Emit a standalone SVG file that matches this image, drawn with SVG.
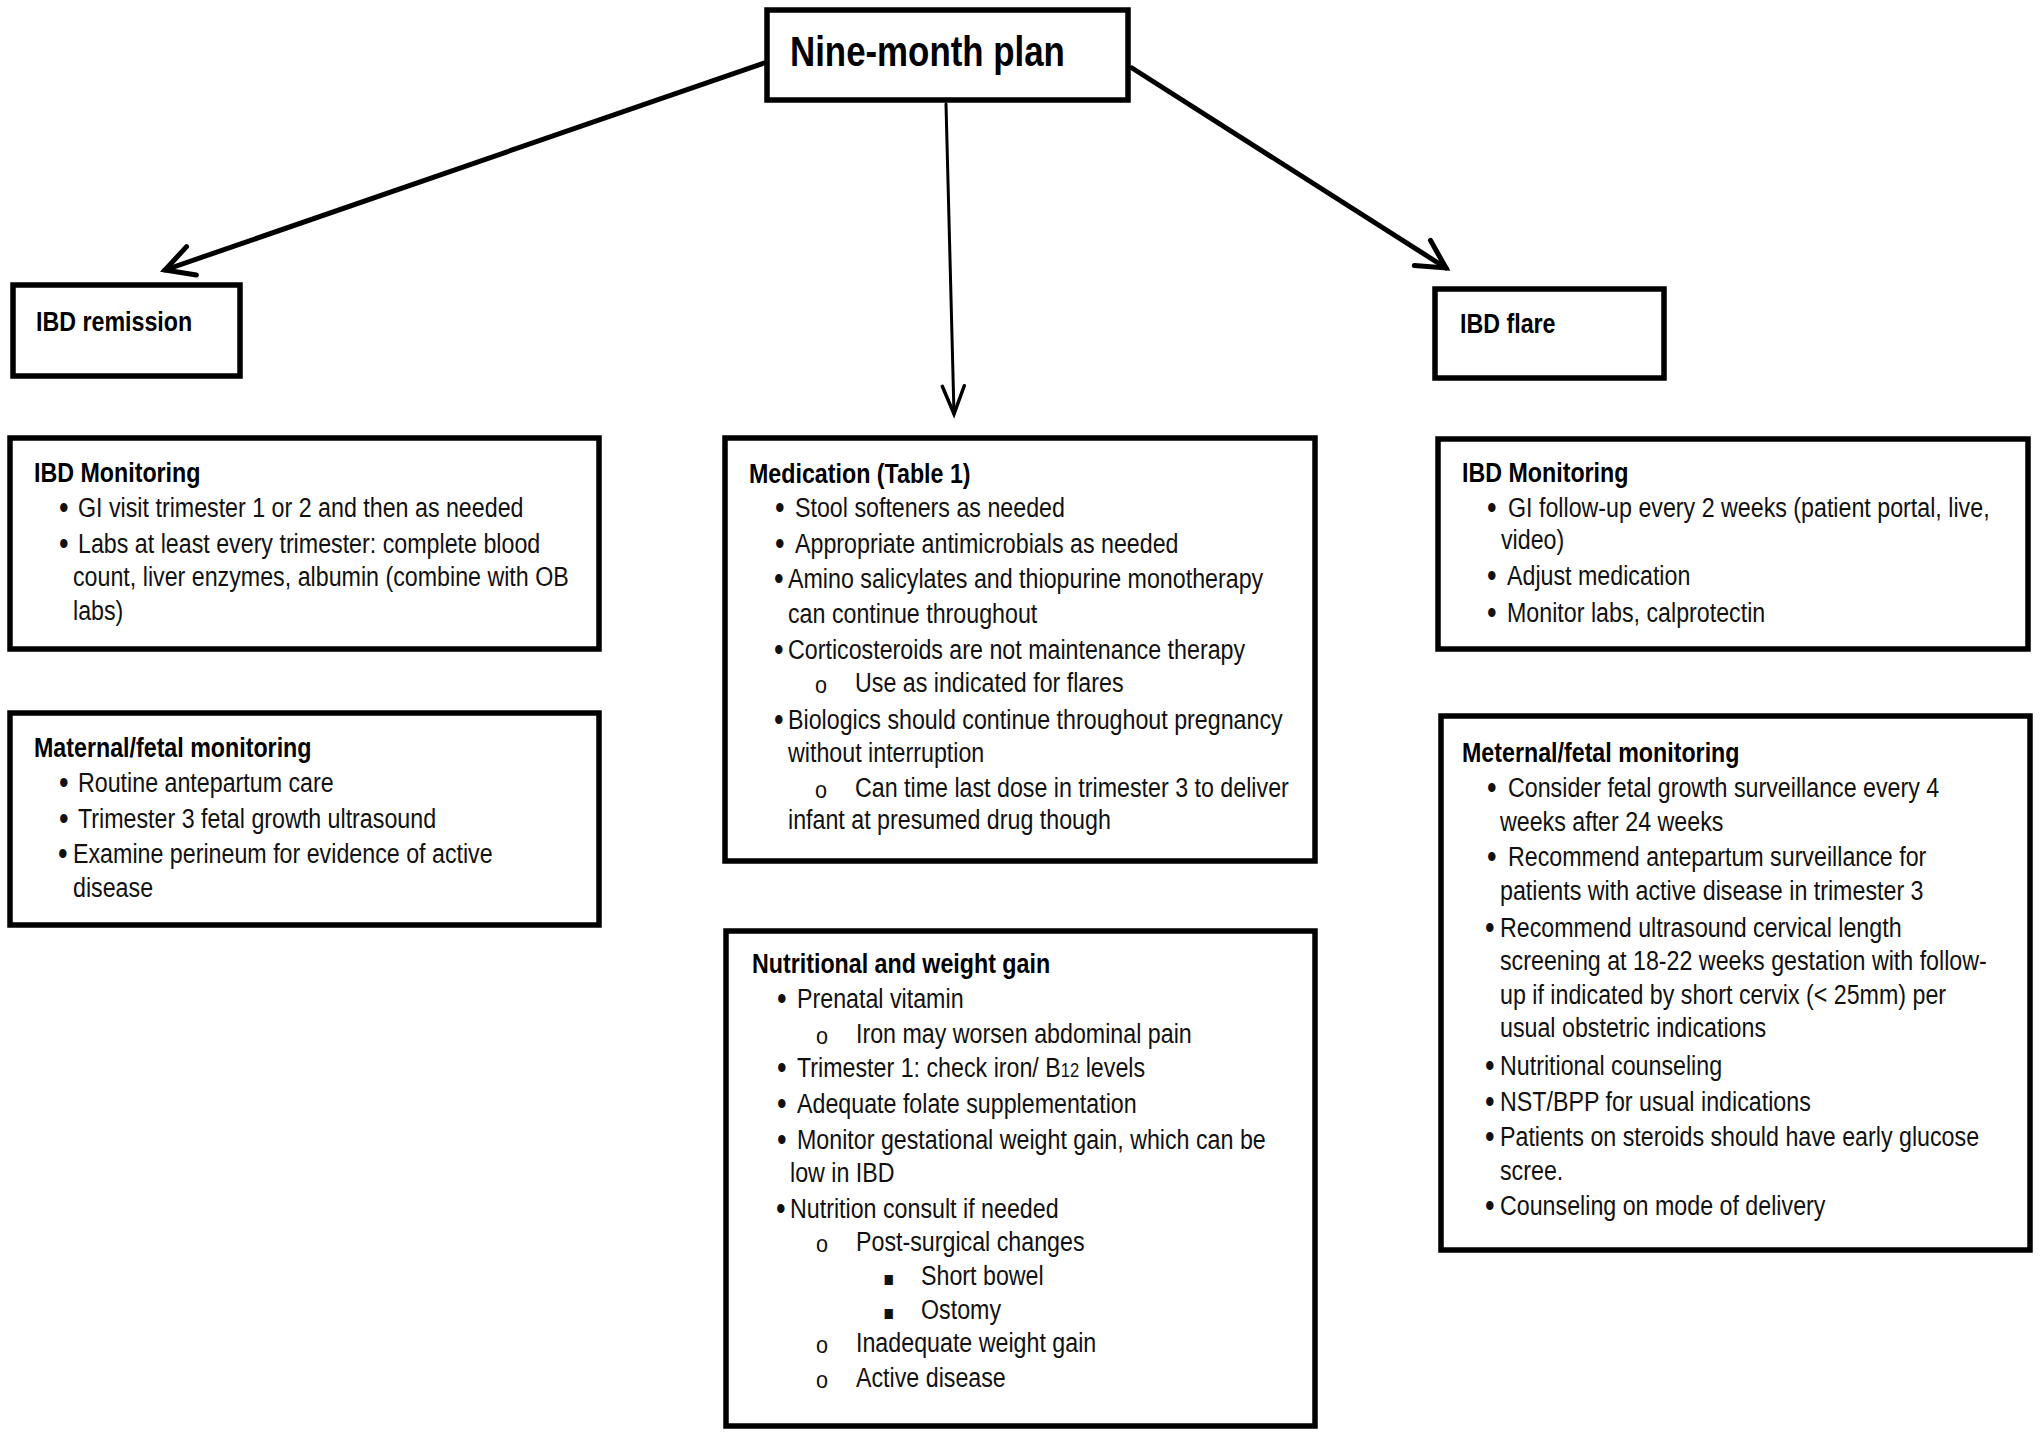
<svg xmlns="http://www.w3.org/2000/svg" width="2040" height="1437" viewBox="0 0 2040 1437">
<style>
.box{fill:#fff;stroke:#000;stroke-width:5.5}
.h{font-family:"Liberation Sans",Arial,sans-serif;font-weight:bold;font-size:28px;fill:#000}
.ti{font-family:"Liberation Sans",Arial,sans-serif;font-weight:bold;font-size:42px;fill:#000}
.t{font-family:"Liberation Sans",Arial,sans-serif;font-size:28px;fill:#111}
.b{font-family:"Liberation Sans",Arial,sans-serif;font-size:33px;fill:#111}
.o{font-family:"Liberation Sans",Arial,sans-serif;font-size:24px;fill:#111}
.sq{font-family:"DejaVu Sans",sans-serif;font-size:20px;fill:#111}
.sub{font-size:20px}
.ln{fill:none;stroke:#000;stroke-linecap:round}
</style>
<defs>
<marker id="ah" markerUnits="userSpaceOnUse" markerWidth="60" markerHeight="60" viewBox="-40 -30 60 60" refX="0" refY="0" orient="auto" overflow="visible">
<path d="M-28,-15 L0,0 L-28,15" fill="none" stroke="#000" stroke-width="5" stroke-linecap="round"/>
</marker>
<marker id="ah2" markerUnits="userSpaceOnUse" markerWidth="60" markerHeight="60" viewBox="-40 -30 60 60" refX="0" refY="0" orient="auto" overflow="visible">
<path d="M-28,-11 L0,0 L-28,11" fill="none" stroke="#000" stroke-width="3.5" stroke-linecap="round"/>
</marker>
</defs>
<rect width="2040" height="1437" fill="#fff"/>

<g id="connectors">
<line class="ln" x1="764" y1="63" x2="165" y2="270" stroke-width="5" marker-end="url(#ah)"/>
<line class="ln" x1="946" y1="104" x2="954" y2="414" stroke-width="3" marker-end="url(#ah2)"/>
<line class="ln" x1="1132" y1="68" x2="1446" y2="268" stroke-width="5" marker-end="url(#ah)"/>
</g>

<g id="title">
<rect class="box" x="767" y="10" width="361" height="90"/>
<text class="ti" transform="translate(790 66) scale(.83 1)">Nine-month plan</text>
</g>

<g id="ibd-remission">
<rect class="box" x="13" y="285" width="227" height="91"/>
<text class="h" transform="translate(36 331) scale(.83 1)">IBD remission</text>
</g>

<g id="ibd-flare">
<rect class="box" x="1435" y="289" width="229" height="89"/>
<text class="h" transform="translate(1460 333) scale(.83 1)">IBD flare</text>
</g>

<g id="remission-ibd-monitoring">
<rect class="box" x="10" y="438" width="589" height="211"/>
<text class="h" transform="translate(34 482) scale(.83 1)">IBD Monitoring</text>
<text class="b" transform="translate(59 519) scale(.83 1)">•</text>
<text class="t" transform="translate(78 517) scale(.83 1)">GI visit trimester 1 or 2 and then as needed</text>
<text class="b" transform="translate(59 555) scale(.83 1)">•</text>
<text class="t" transform="translate(78 553) scale(.83 1)">Labs at least every trimester: complete blood</text>
<text class="t" transform="translate(73 586) scale(.83 1)">count, liver enzymes, albumin (combine with OB</text>
<text class="t" transform="translate(73 620) scale(.83 1)">labs)</text>
</g>

<g id="remission-maternal-fetal">
<rect class="box" x="10" y="713" width="589" height="212"/>
<text class="h" transform="translate(34 757) scale(.83 1)">Maternal/fetal monitoring</text>
<text class="b" transform="translate(59 794) scale(.83 1)">•</text>
<text class="t" transform="translate(78 792) scale(.83 1)">Routine antepartum care</text>
<text class="b" transform="translate(59 830) scale(.83 1)">•</text>
<text class="t" transform="translate(78 828) scale(.83 1)">Trimester 3 fetal growth ultrasound</text>
<text class="b" transform="translate(58 865) scale(.83 1)">•</text>
<text class="t" transform="translate(73 863) scale(.83 1)">Examine perineum for evidence of active</text>
<text class="t" transform="translate(73 897) scale(.83 1)">disease</text>
</g>

<g id="medication">
<rect class="box" x="725" y="438" width="590" height="423"/>
<text class="h" transform="translate(749 483) scale(.83 1)">Medication (Table 1)</text>
<text class="b" transform="translate(775 519) scale(.83 1)">•</text>
<text class="t" transform="translate(795 517) scale(.83 1)">Stool softeners as needed</text>
<text class="b" transform="translate(775 555) scale(.83 1)">•</text>
<text class="t" transform="translate(795 553) scale(.83 1)">Appropriate antimicrobials as needed</text>
<text class="b" transform="translate(774 590) scale(.83 1)">•</text>
<text class="t" transform="translate(788 588) scale(.83 1)">Amino salicylates and thiopurine monotherapy</text>
<text class="t" transform="translate(788 623) scale(.83 1)">can continue throughout</text>
<text class="b" transform="translate(774 661) scale(.83 1)">•</text>
<text class="t" transform="translate(788 659) scale(.83 1)">Corticosteroids are not maintenance therapy</text>
<text class="o" transform="translate(815 693) scale(.9 1)">o</text>
<text class="t" transform="translate(855 692) scale(.83 1)">Use as indicated for flares</text>
<text class="b" transform="translate(774 731) scale(.83 1)">•</text>
<text class="t" transform="translate(788 729) scale(.83 1)">Biologics should continue throughout pregnancy</text>
<text class="t" transform="translate(788 762) scale(.83 1)">without interruption</text>
<text class="o" transform="translate(815 798) scale(.9 1)">o</text>
<text class="t" transform="translate(855 797) scale(.83 1)">Can time last dose in trimester 3 to deliver</text>
<text class="t" transform="translate(788 829) scale(.83 1)">infant at presumed drug though</text>
</g>

<g id="nutrition">
<rect class="box" x="726" y="931" width="589" height="495"/>
<text class="h" transform="translate(752 973) scale(.83 1)">Nutritional and weight gain</text>
<text class="b" transform="translate(777 1010) scale(.83 1)">•</text>
<text class="t" transform="translate(797 1008) scale(.83 1)">Prenatal vitamin</text>
<text class="o" transform="translate(816 1044) scale(.9 1)">o</text>
<text class="t" transform="translate(856 1043) scale(.83 1)">Iron may worsen abdominal pain</text>
<text class="b" transform="translate(777 1079) scale(.83 1)">•</text>
<text class="t" transform="translate(797 1077) scale(.83 1)">Trimester 1: check iron/ B<tspan class="sub">12</tspan> levels</text>
<text class="b" transform="translate(777 1115) scale(.83 1)">•</text>
<text class="t" transform="translate(797 1113) scale(.83 1)">Adequate folate supplementation</text>
<text class="b" transform="translate(777 1151) scale(.83 1)">•</text>
<text class="t" transform="translate(797 1149) scale(.83 1)">Monitor gestational weight gain, which can be</text>
<text class="t" transform="translate(790 1182) scale(.83 1)">low in IBD</text>
<text class="b" transform="translate(776 1220) scale(.83 1)">•</text>
<text class="t" transform="translate(790 1218) scale(.83 1)">Nutrition consult if needed</text>
<text class="o" transform="translate(816 1252) scale(.9 1)">o</text>
<text class="t" transform="translate(856 1251) scale(.83 1)">Post-surgical changes</text>
<text class="sq" transform="translate(883 1285) scale(.83 1)">▪</text>
<text class="t" transform="translate(921 1285) scale(.83 1)">Short bowel</text>
<text class="sq" transform="translate(883 1319) scale(.83 1)">▪</text>
<text class="t" transform="translate(921 1319) scale(.83 1)">Ostomy</text>
<text class="o" transform="translate(816 1353) scale(.9 1)">o</text>
<text class="t" transform="translate(856 1352) scale(.83 1)">Inadequate weight gain</text>
<text class="o" transform="translate(816 1388) scale(.9 1)">o</text>
<text class="t" transform="translate(856 1387) scale(.83 1)">Active disease</text>
</g>

<g id="flare-ibd-monitoring">
<rect class="box" x="1438" y="439" width="590" height="210"/>
<text class="h" transform="translate(1462 482) scale(.83 1)">IBD Monitoring</text>
<text class="b" transform="translate(1487 519) scale(.83 1)">•</text>
<text class="t" transform="translate(1508 517) scale(.83 1)">GI follow-up every 2 weeks (patient portal, live,</text>
<text class="t" transform="translate(1501 549) scale(.83 1)">video)</text>
<text class="b" transform="translate(1487 587) scale(.83 1)">•</text>
<text class="t" transform="translate(1507 585) scale(.83 1)">Adjust medication</text>
<text class="b" transform="translate(1487 624) scale(.83 1)">•</text>
<text class="t" transform="translate(1507 622) scale(.83 1)">Monitor labs, calprotectin</text>
</g>

<g id="flare-maternal-fetal">
<rect class="box" x="1441" y="716" width="589" height="534"/>
<text class="h" transform="translate(1462 762) scale(.83 1)">Meternal/fetal monitoring</text>
<text class="b" transform="translate(1487 799) scale(.83 1)">•</text>
<text class="t" transform="translate(1508 797) scale(.83 1)">Consider fetal growth surveillance every 4</text>
<text class="t" transform="translate(1500 831) scale(.83 1)">weeks after 24 weeks</text>
<text class="b" transform="translate(1487 868) scale(.83 1)">•</text>
<text class="t" transform="translate(1508 866) scale(.83 1)">Recommend antepartum surveillance for</text>
<text class="t" transform="translate(1500 900) scale(.83 1)">patients with active disease in trimester 3</text>
<text class="b" transform="translate(1485 939) scale(.83 1)">•</text>
<text class="t" transform="translate(1500 937) scale(.83 1)">Recommend ultrasound cervical length</text>
<text class="t" transform="translate(1500 970) scale(.83 1)">screening at 18-22 weeks gestation with follow-</text>
<text class="t" transform="translate(1500 1004) scale(.83 1)">up if indicated by short cervix (&lt; 25mm) per</text>
<text class="t" transform="translate(1500 1037) scale(.83 1)">usual obstetric indications</text>
<text class="b" transform="translate(1485 1077) scale(.83 1)">•</text>
<text class="t" transform="translate(1500 1075) scale(.83 1)">Nutritional counseling</text>
<text class="b" transform="translate(1485 1113) scale(.83 1)">•</text>
<text class="t" transform="translate(1500 1111) scale(.83 1)">NST/BPP for usual indications</text>
<text class="b" transform="translate(1485 1148) scale(.83 1)">•</text>
<text class="t" transform="translate(1500 1146) scale(.83 1)">Patients on steroids should have early glucose</text>
<text class="t" transform="translate(1500 1180) scale(.83 1)">scree.</text>
<text class="b" transform="translate(1485 1217) scale(.83 1)">•</text>
<text class="t" transform="translate(1500 1215) scale(.83 1)">Counseling on mode of delivery</text>
</g>
</svg>
